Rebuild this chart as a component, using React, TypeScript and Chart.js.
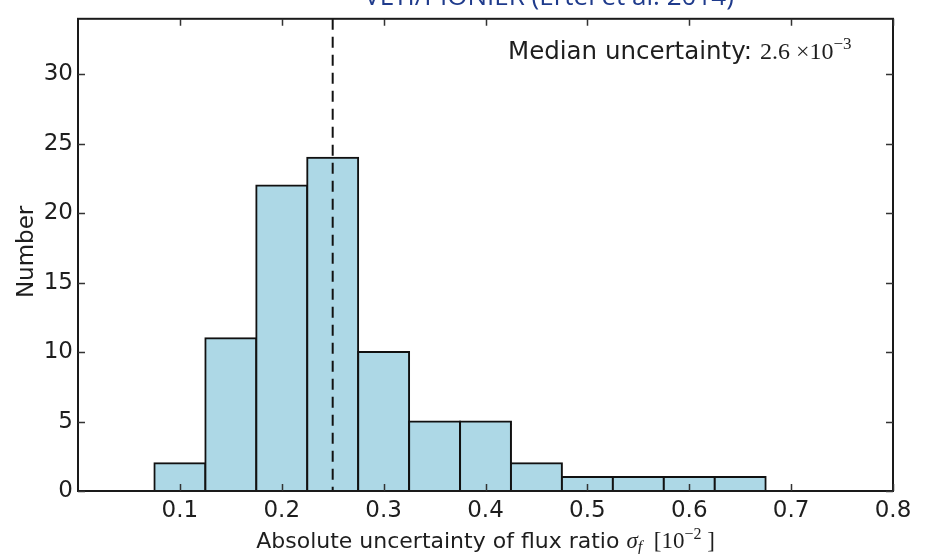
import React, { useEffect, useRef } from "react";
import { Chart, registerables } from "chart.js";

Chart.register(...registerables);

// ---- data ----
const binCenters = [0.05, 0.1, 0.15, 0.2, 0.25, 0.3, 0.35, 0.4, 0.45, 0.5, 0.55, 0.6, 0.65];
const counts = [0, 2, 11, 22, 24, 10, 5, 5, 2, 1, 1, 1, 1];
const medianValue = 0.25;
const xTicks = [0.1, 0.2, 0.3, 0.4, 0.5, 0.6, 0.7, 0.8];
const yTicks = [0, 5, 10, 15, 20, 25, 30];
const xRange = [0, 0.8];
const yRange = [0, 34];
const titleText = "VLTI/PIONIER (Ertel et al. 2014)";
const yTitle = "Number";
const xTitleMain = "Absolute uncertainty of flux ratio ";
const annotationMain = "Median uncertainty: ";
const annotationValue = "2.6 \u00d710";
const annotationExp = "\u22123";

type Run = { text: string; font: string; dy?: number };

function runsWidth(ctx: CanvasRenderingContext2D, runs: Run[]) {
  let w = 0;
  for (const r of runs) {
    ctx.font = r.font;
    w += ctx.measureText(r.text).width;
  }
  return w;
}

function drawRuns(ctx: CanvasRenderingContext2D, runs: Run[], x: number, y: number, align: "left" | "center") {
  let cx = align === "center" ? x - runsWidth(ctx, runs) / 2 : x;
  ctx.textAlign = "left";
  ctx.textBaseline = "alphabetic";
  for (const r of runs) {
    ctx.font = r.font;
    ctx.fillText(r.text, cx, y + (r.dy || 0));
    cx += ctx.measureText(r.text).width;
  }
}

const TEXT = "#1e1e1e";
const SANS = "'DejaVu Sans'";
const SERIF = "'Liberation Serif'";

const decorPlugin = {
  id: "decor",
  afterDraw(chart: any) {
    const ctx: CanvasRenderingContext2D = chart.ctx;
    const { left, right, top, bottom } = chart.chartArea;
    const xs = chart.scales.x;
    const ys = chart.scales.y;
    ctx.save();
    // spines
    ctx.strokeStyle = "#1a1a1a";
    ctx.lineWidth = 2;
    ctx.strokeRect(left, top, right - left, bottom - top);
    // inward ticks
    ctx.lineWidth = 1.5;
    ctx.strokeStyle = "#333";
    const tl = 7;
    for (const v of xTicks) {
      const px = Math.round(xs.getPixelForValue(v)) + 0.5;
      ctx.beginPath();
      ctx.moveTo(px, bottom);
      ctx.lineTo(px, bottom - tl);
      ctx.moveTo(px, top);
      ctx.lineTo(px, top + tl);
      ctx.stroke();
    }
    for (const v of yTicks) {
      const py = Math.round(ys.getPixelForValue(v)) + 0.5;
      ctx.beginPath();
      ctx.moveTo(left, py);
      ctx.lineTo(left + tl, py);
      ctx.moveTo(right, py);
      ctx.lineTo(right - tl, py);
      ctx.stroke();
    }
    ctx.fillStyle = TEXT;
    // y title
    ctx.save();
    ctx.translate(27, (top + bottom) / 2 - 3);
    ctx.rotate(-Math.PI / 2);
    ctx.font = `23px ${SANS}`;
    ctx.textAlign = "center";
    ctx.textBaseline = "middle";
    ctx.fillText(yTitle, 0, 0);
    ctx.restore();
    // x title
    drawRuns(
      ctx,
      [
        { text: xTitleMain, font: `22px ${SANS}` },
        { text: "\u03c3", font: `italic 23px ${SERIF}` },
        { text: "f", font: `italic 16px ${SERIF}`, dy: 4 },
        { text: "  [10", font: `23px ${SERIF}` },
        { text: "\u22122", font: `16px ${SERIF}`, dy: -9 },
        { text: " ]", font: `23px ${SERIF}` },
      ],
      (left + right) / 2,
      548,
      "center"
    );
    // annotation
    drawRuns(
      ctx,
      [
        { text: annotationMain, font: `24.5px ${SANS}` },
        { text: annotationValue, font: `24px ${SERIF}` },
        { text: annotationExp, font: `17px ${SERIF}`, dy: -10 },
      ],
      508,
      59,
      "left"
    );
    // partially visible title at the top (cut off by the page edge)
    ctx.fillStyle = "#1f3b8c";
    ctx.font = `26px 'Open Sans'`;
    ctx.textAlign = "center";
    ctx.textBaseline = "alphabetic";
    ctx.fillText(titleText, 549, 5);
    ctx.restore();
  },
};

export default function App() {
  const ref = useRef<HTMLCanvasElement | null>(null);
  useEffect(() => {
    if (!ref.current) return;
    const chart = new Chart(ref.current, {
      type: "bar",
      data: {
        datasets: [
          {
            type: "line",
            data: [
              { x: medianValue, y: yRange[1] },
              { x: medianValue, y: yRange[0] },
            ],
            borderColor: "#111",
            borderWidth: 2,
            borderDash: [11, 7],
            pointRadius: 0,
            order: 0,
          } as any,
          {
            type: "bar",
            data: binCenters.map((c, i) => ({ x: c, y: counts[i] })),
            backgroundColor: "#add8e6",
            borderColor: "#111",
            borderWidth: 2,
            borderSkipped: false,
            inflateAmount: 1,
            categoryPercentage: 1,
            barPercentage: 1,
            order: 1,
          } as any,
        ],
      },
      options: {
        responsive: false,
        maintainAspectRatio: false,
        animation: false,
        devicePixelRatio: 1,
        layout: { padding: { top: 13, right: 37, left: 0, bottom: 0 } },
        plugins: { legend: { display: false }, tooltip: { enabled: false }, title: { display: false } },
        scales: {
          x: {
            type: "linear",
            min: xRange[0],
            max: xRange[1],
            offset: false,
            grid: { display: false, drawTicks: false },
            border: { display: false },
            afterBuildTicks: (s: any) => {
              s.ticks = xTicks.map((v) => ({ value: v }));
            },
            afterFit: (s: any) => {
              s.height = 63;
            },
            ticks: {
              padding: 6,
              color: TEXT,
              font: { family: "DejaVu Sans", size: 23 },
              maxRotation: 0,
              autoSkip: false,
              callback: (v: any) => Number(v).toFixed(1),
            },
          },
          y: {
            type: "linear",
            min: yRange[0],
            max: yRange[1],
            grid: { display: false, drawTicks: false },
            border: { display: false },
            afterBuildTicks: (s: any) => {
              s.ticks = yTicks.map((v) => ({ value: v }));
            },
            afterFit: (s: any) => {
              s.width = 78;
            },
            ticks: {
              padding: 5,
              color: TEXT,
              font: { family: "DejaVu Sans", size: 23 },
              autoSkip: false,
              callback: (v: any) => String(v),
            },
          },
        },
      },
      plugins: [decorPlugin],
    });
    return () => chart.destroy();
  }, []);
  return (
    <div style={{ position: "fixed", left: 0, top: 0, width: 930, height: 554, background: "#fff" }}>
      <canvas ref={ref} width={930} height={554} style={{ width: 930, height: 554, display: "block" }} />
    </div>
  );
}
